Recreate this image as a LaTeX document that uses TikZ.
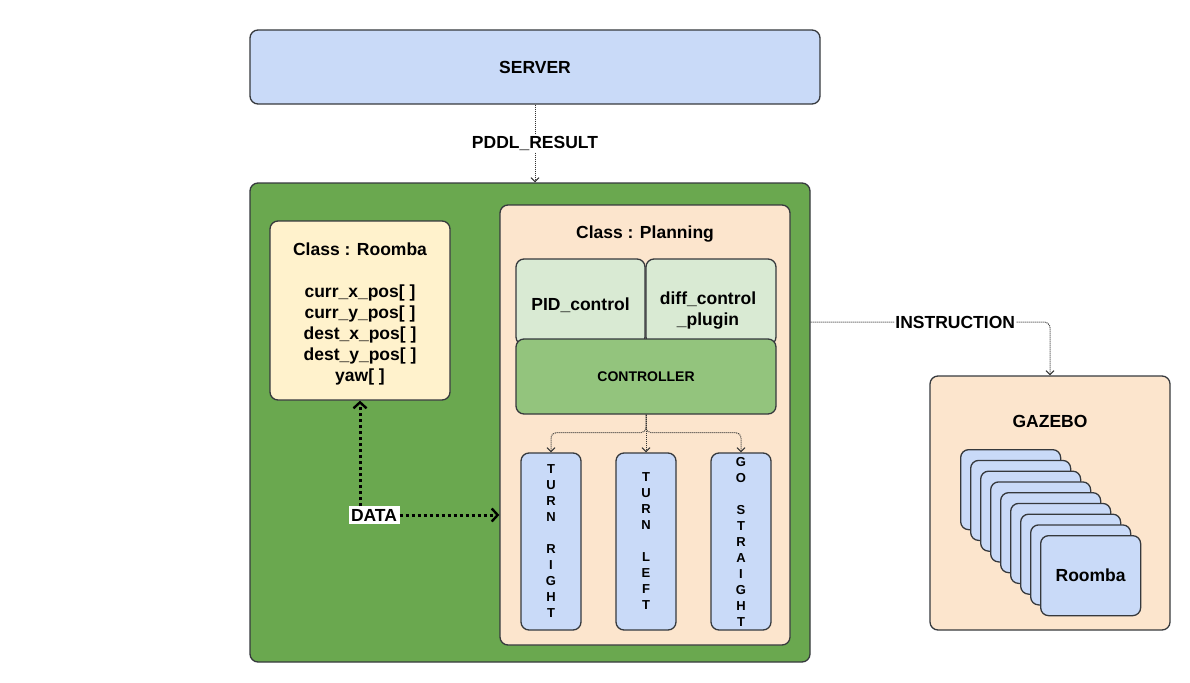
\documentclass[tikz,border=0pt]{standalone}
\usepackage{fontspec}
\setmainfont{Liberation Sans}
\usetikzlibrary{positioning, arrows.meta, calc}
\definecolor{edge}{HTML}{36393D}
\definecolor{srvblue}{HTML}{C9DAF8}
\definecolor{grn}{HTML}{6AA84F}
\definecolor{cream}{HTML}{FFF2CC}
\definecolor{peach}{HTML}{FCE5CD}
\definecolor{ltgrn}{HTML}{D9EAD3}
\definecolor{ctrlgrn}{HTML}{93C47D}

\begin{document}
\begin{tikzpicture}[x=1pt, y=-1pt,
	box/.style={draw=edge, line width=1.3pt, rounded corners=8pt, inner sep=0pt, align=center, font=\fontsize{17.5}{21}\selectfont\bfseries},
	lbl/.style={inner sep=1pt, align=center, font=\fontsize{17.5}{21}\selectfont\bfseries},
	dotline/.style={draw=black!80, line width=1pt, dash pattern=on 1pt off 1pt, -{Straight Barb[length=4pt, width=8pt]}},
	datline/.style={draw=black, line width=3pt, dash pattern=on 3pt off 3pt, -{Straight Barb[length=6pt, width=13pt, line width=2.4pt]}}]
			\useasboundingbox (0,0) rectangle (1190,682);
			
			% server and main block
			\node[box, fill=srvblue, minimum width=570, minimum height=74] (srv) at (535,67) {SERVER};
			\node[box, fill=grn, minimum width=560, minimum height=479] (ctl) at (530,422.5) {};
			\draw[dotline] (srv.south) -- node[lbl, fill=white] (pddl) {PDDL\_RESULT} (srv.south |- ctl.north);
			
			% class roomba
			\node[box, fill=cream, minimum width=180, minimum height=179] (rmb) at (360,310.5) {};
			\node[lbl] (rmbtxt) at (360,314) {Class : Roomba\\[21pt]curr\_x\_pos[ ]\\curr\_y\_pos[ ]\\dest\_x\_pos[ ]\\dest\_y\_pos[ ]\\yaw[ ]};
			
			% class planning
			\node[box, fill=peach, minimum width=290, minimum height=440] (plan) at (645,425) {};
			\node[lbl] (plantitle) at (645,234) {Class : Planning};
			\node[box, fill=ltgrn, minimum width=129, minimum height=86] (pid) at (580.5,302) {};
			\node[box, fill=ltgrn, minimum width=130, minimum height=86] (diff) at (711,302) {};
			\node[lbl] (pidtxt) at (580.5,305) {PID\_control};
			\node[lbl] (difftxt) at (708,311) {diff\_control\\\_plugin};
			\node[box, fill=ctrlgrn, minimum width=260, minimum height=75, font=\fontsize{14}{17}\selectfont\bfseries] (ctrl) at (646,376.5) {CONTROLLER};
			
			\node[box, fill=srvblue, minimum width=60, minimum height=177, font=\fontsize{13}{16}\selectfont\bfseries] (tr) at (551,541.5) {T\\U\\R\\N\\[16pt]R\\I\\G\\H\\T};
			\node[box, fill=srvblue, minimum width=60, minimum height=177, font=\fontsize{13}{16}\selectfont\bfseries] (tl) at (646,541.5) {T\\U\\R\\N\\[16pt]L\\E\\F\\T};
			\node[box, fill=srvblue, minimum width=60, minimum height=177, font=\fontsize{13}{16}\selectfont\bfseries] (gs) at (741,541.5) {G\\O\\[16pt]S\\T\\R\\A\\I\\G\\H\\T};
			
			\draw[dotline, rounded corners=5pt] (ctrl.south) -- ++(0,18) -| (tr.north);
			\draw[dotline, rounded corners=5pt] (ctrl.south) -- ++(0,18) -| (gs.north);
			\draw[dotline] (ctrl.south) -- (tl.north);
			
			% data
			\node[lbl, fill=white, inner sep=2.5pt] (data) at (374,515) {DATA};
			\draw[datline] (data.north -| rmb.south) -- (rmb.south);
			\draw[datline] (data.east) -- (data.east -| plan.west);
			
			% gazebo
			\node[box, fill=peach, minimum width=240, minimum height=254] (gaz) at (1050,503) {};
			\node[lbl] (gaztitle) at (1050,421) {GAZEBO};
			\foreach \i in {0,...,8}
				\node[box, fill=srvblue, minimum width=100, minimum height=80, anchor=north west] (rb\i) at (960+10*\i, 449+10.75*\i) {};
			\node[lbl] (rbtxt) at (rb8.center) {Roomba};
			
			\coordinate (iout) at ([yshift=100.5pt]ctl.east);
			\draw[dotline, rounded corners=6pt] (iout) -| node[lbl, fill=white, pos=0.302] (instr) {INSTRUCTION} (gaz.north);
\end{tikzpicture}
\end{document}
